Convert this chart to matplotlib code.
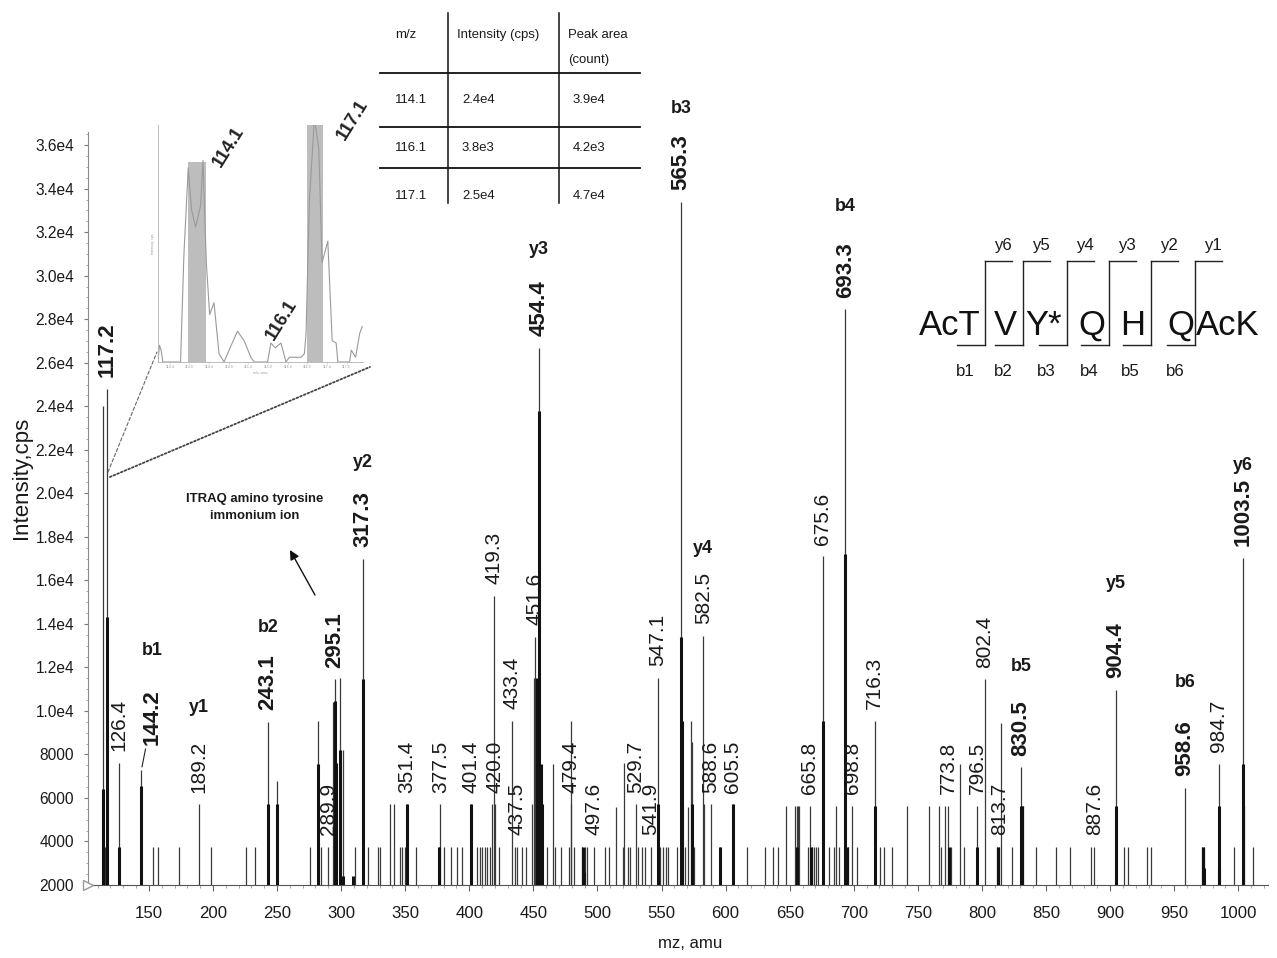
import numpy as np
import matplotlib
matplotlib.use("Agg")
import matplotlib.pyplot as plt
from matplotlib import font_manager as fm
from matplotlib.ticker import MultipleLocator, FixedLocator, FuncFormatter
from matplotlib.patches import ConnectionPatch

# ---------------- data ----------------
peak_mz = [114.1, 116.1, 117.2, 126.4, 144.2, 152.9, 156.8, 173.5, 189.2, 198.7,
           226.1, 232.6, 243.1, 249.9, 275.8, 282.3, 284.5, 289.9, 294.0, 295.1,
           299.1, 301.1, 310.5, 317.3, 320.8, 328.6, 330.5, 338.5, 341.0, 345.6,
           347.7, 349.5, 351.4, 358.6, 376.0, 377.5, 380.6, 385.7, 390.1, 394.3,
           401.4, 406.4, 408.0, 410.0, 412.0, 414.0, 416.0, 417.6, 419.3, 420.0,
           423.3, 433.4, 435.5, 437.5, 441.4, 444.0, 448.6, 450.4, 451.6, 454.4,
           457.0, 460.8, 465.2, 466.5, 471.2, 478.0, 479.0, 479.4, 481.5, 488.0,
           490.0, 491.5, 497.6, 506.0, 508.7, 514.4, 520.3, 521.1, 524.2, 525.5,
           529.7, 532.0, 534.5, 537.1, 541.9, 547.1, 548.8, 551.4, 553.2, 555.3,
           561.7, 565.3, 566.3, 568.0, 570.8, 572.9, 573.9, 575.5, 582.5, 583.5,
           588.6, 595.4, 605.5, 616.9, 630.8, 636.8, 640.7, 647.2, 654.5, 655.5,
           656.6, 657.6, 664.5, 665.8, 667.5, 669.0, 670.5, 672.0, 675.6, 680.8,
           684.7, 686.5, 688.5, 693.3, 695.5, 698.8, 702.8, 716.3, 720.4, 723.5,
           730.0, 741.7, 758.5, 766.2, 768.0, 771.4, 773.8, 775.5, 782.5, 785.7,
           796.5, 802.4, 811.5, 813.7, 815.0, 823.2, 830.5, 832.0, 842.1, 858.1,
           868.5, 885.3, 887.6, 904.4, 911.2, 913.8, 928.5, 931.9, 958.6, 972.0,
           973.5, 984.7, 996.6, 1003.5, 1004.8, 1011.3]
peak_int = [24000, 3750, 24800, 7600, 7300, 3750, 3750, 3750, 5700, 3750,
            3750, 3750, 9500, 6800, 3750, 9550, 3750, 3750, 10400, 11450,
            11500, 8200, 3750, 17000, 3750, 3750, 3750, 5700, 5700, 3750,
            3750, 3750, 5700, 3750, 3750, 5700, 3750, 3750, 3750, 3750,
            5700, 3750, 3750, 3750, 3750, 3750, 3750, 5700, 15300, 5700,
            3750, 9550, 3750, 3750, 3750, 3750, 5700, 11500, 13400, 26700,
            3750, 3750, 7550, 3750, 3750, 3750, 9550, 5700, 3750, 3750,
            3750, 3750, 3750, 3750, 3750, 5600, 3750, 7600, 3750, 3750,
            5700, 3750, 3750, 3750, 3750, 11500, 3750, 3750, 3750, 3750,
            3750, 33400, 9550, 3750, 5600, 9550, 8550, 3750, 13450, 5700,
            5700, 3750, 5700, 3750, 3750, 3750, 3750, 5650, 5650, 5650,
            5650, 5650, 3750, 5650, 3750, 3750, 3750, 3750, 17100, 3750,
            3750, 5650, 3750, 28450, 3750, 5650, 3750, 9550, 3750, 3750,
            3750, 5650, 5650, 5650, 3750, 5650, 5650, 3750, 7550, 3750,
            5650, 11450, 3750, 3750, 9450, 3750, 7400, 5650, 3750, 3750,
            3750, 3750, 3750, 10950, 3750, 3750, 3750, 3750, 6450, 3750,
            3750, 7550, 3750, 17050, 5650, 3750]

# unresolved clusters of sticks (appear as thicker dark bars)
cluster_mz = [114.1, 117.2, 126.4, 144.2, 243.1, 249.9, 282.3, 295.1, 296.0, 299.1,
              301.5, 309.4, 317.3, 351.4, 376.0, 401.4, 452.5, 454.4, 455.8, 456.8,
              488.8, 489.5, 547.1, 565.3, 565.8, 566.0, 573.4, 595.4, 605.5, 656.0,
              666.5, 675.6, 693.3, 694.5, 716.3, 774.5, 796.5, 812.5, 830.5, 831.5,
              904.4, 972.8, 973.0, 984.7, 985.3, 1003.5]
cluster_int = [6400, 14300, 3750, 6550, 5700, 5700, 7550, 10450, 7600, 8200,
               2400, 2400, 11450, 5700, 3750, 5700, 11500, 23800, 7550, 5700,
               3750, 2600, 5700, 13400, 9550, 5700, 5700, 3750, 5700, 3750,
               3750, 9550, 17200, 3750, 5650, 3750, 3750, 3750, 5650, 5650,
               5650, 3750, 2800, 5650, 2800, 7550]

label_mz = [117.2, 126.4, 144.2, 189.2, 243.1, 289.9, 295.1, 317.3, 351.4, 377.5,
            401.4, 419.3, 420.0, 433.4, 437.5, 451.6, 454.4, 479.4, 497.6, 529.7,
            541.9, 547.1, 565.3, 582.5, 588.6, 605.5, 665.8, 675.6, 693.3, 698.8,
            716.3, 773.8, 796.5, 802.4, 813.7, 830.5, 887.6, 904.4, 958.6, 984.7,
            1003.5]
bold_labels = [117.2, 144.2, 243.1, 295.1, 317.3, 454.4, 565.3, 693.3, 830.5,
               904.4, 958.6, 1003.5]

ion_names = ["b1", "y1", "b2", "y2", "y3", "b3", "y4", "b4", "b5", "y5", "b6", "y6"]
ion_mz = [144.2, 189.2, 243.1, 317.3, 454.4, 565.3, 582.5, 693.3, 830.5, 904.4, 958.6, 1003.5]

y_ticks = list(range(2000, 36001, 2000))
x_ticks = list(range(150, 1001, 50))

table_header = ["m/z", "Intensity (cps)", "Peak area\n(count)"]
table_mz = ["114.1", "116.1", "117.1"]
table_intensity = ["2.4e4", "3.8e3", "2.5e4"]
table_area = ["3.9e4", "4.2e3", "4.7e4"]

residues = ["AcT", "V", "Y*", "Q", "H", "Q", "AcK"]
y_ions_seq = ["y6", "y5", "y4", "y3", "y2", "y1"]
b_ions_seq = ["b1", "b2", "b3", "b4", "b5", "b6"]

# inset: iTRAQ reporter region profile
inset_x = [113.103, 113.137, 113.180, 113.222, 113.674, 113.759, 113.870, 113.955,
           114.057, 114.185, 114.245, 114.330, 114.415, 114.526, 114.654, 114.782,
           114.910, 115.123, 115.293, 115.464, 115.549, 115.890, 115.975, 116.086,
           116.231, 116.359, 116.444, 116.742, 116.827, 116.870, 116.955, 117.083,
           117.194, 117.279, 117.424, 117.535, 117.637, 117.680, 117.978, 118.021,
           118.132, 118.234, 118.302]
inset_y = [0.01, 0.07, 0.05, 0.0, 0.0, 0.45, 0.82, 0.64,
           0.57, 0.66, 0.85, 0.42, 0.20, 0.25, 0.035, 0.0,
           0.05, 0.13, 0.09, 0.02, 0.0, 0.0, 0.08, 0.06,
           0.08, 0.0, 0.02, 0.02, 0.035, 0.12, 0.68, 1.03,
           0.9, 0.42, 0.51, 0.09, 0.08, 0.0, 0.0, 0.05,
           0.02, 0.12, 0.15]
inset_bar_left = [113.870, 116.887]
inset_bar_right = [114.330, 117.313]
inset_bar_height = [0.845, 1.10]
inset_labels = ["114.1", "116.1", "117.1"]
inset_ticks = [113.4, 113.9, 114.4, 114.9, 115.4, 115.9, 116.4, 116.9, 117.4, 117.9]

# ---------------- fonts ----------------
def pick(cands, fallback="DejaVu Sans"):
    for n in cands:
        try:
            fm.findfont(fm.FontProperties(family=n), fallback_to_default=False)
            return n
        except Exception:
            continue
    return fallback

SANS = pick(["Liberation Sans", "Arimo", "DejaVu Sans"])
NARROW = pick(["Liberation Sans Narrow", "Arial Narrow"], None)
NS = 1.0
if NARROW is None:
    NARROW = SANS
    NS = 0.86
plt.rcParams["font.family"] = [SANS, "DejaVu Sans"]

W, H = 1277, 958
TXT = "#1a1a1a"

fig = plt.figure(figsize=(W / 100, H / 100), dpi=100, facecolor="white")

# ---------------- main spectrum ----------------
ax = fig.add_axes([88 / W, 73 / H, 1180 / W, 752.9 / H])
ax.set_xlim(102.5, 1023.2)
ax.set_ylim(2000, 36600)
ax.vlines(peak_mz, 2000, peak_int, colors="#3a3a3a", lw=0.9, zorder=2)
ax.vlines(cluster_mz, 2000, cluster_int, colors="#111111", lw=2.2, zorder=3)

for s in ["top", "right"]:
    ax.spines[s].set_visible(False)
ax.spines["left"].set_color("#8a8a8a")
ax.spines["left"].set_linewidth(0.8)
ax.spines["bottom"].set_color("#555555")
ax.spines["bottom"].set_linewidth(0.8)

ax.yaxis.set_major_locator(FixedLocator(y_ticks))
ax.yaxis.set_major_formatter(FuncFormatter(
    lambda v, p: f"{int(v)}" if v < 10000 else f"{v / 1e4:.1f}e4"))
ax.yaxis.set_minor_locator(MultipleLocator(500))
ax.xaxis.set_major_locator(FixedLocator(x_ticks))
ax.xaxis.set_minor_locator(MultipleLocator(10))
ax.tick_params(axis="y", which="major", length=3, color="#777777", pad=7,
               labelsize=13 * NS, labelcolor=TXT)
ax.tick_params(axis="y", which="minor", length=1.5, color="#999999")
ax.tick_params(axis="x", which="major", length=4, color="#666666", pad=11,
               labelsize=14 * NS, labelcolor=TXT)
ax.tick_params(axis="x", which="minor", length=2, color="#999999")
for lab in ax.get_xticklabels() + ax.get_yticklabels():
    lab.set_family(NARROW)

ax.plot([102.5], [2000], marker=">", ms=7, mfc="white", mec="#999999",
        mew=1.0, clip_on=False, zorder=5)

# peak labels
peak_lookup = dict(zip(peak_mz, peak_int))
label_artists = {}
for m in label_mz:
    h = peak_lookup[m]
    bold = m in bold_labels
    if m == 144.2:
        t = ax.annotate(f"{m:.1f}", xy=(m, h), xytext=(7.5, 18),
                        textcoords="offset points", rotation=90, ha="center",
                        va="bottom", fontsize=16, fontweight="bold", color=TXT,
                        family=SANS,
                        arrowprops=dict(arrowstyle="-", lw=0.8, color="#222222",
                                        shrinkA=1, shrinkB=2))
    else:
        t = ax.annotate(f"{m:.1f}", xy=(m, h), xytext=(0, 8.5),
                        textcoords="offset points", rotation=90, ha="center",
                        va="bottom", fontsize=16 if bold else 15,
                        fontweight="bold" if bold else "normal", color=TXT,
                        family=SANS)
    label_artists[m] = t

ion_gap_px = {"b1": 30, "y1": 25, "b2": 18, "y2": 20, "y3": 22, "b3": 17,
              "y4": 15, "b4": 27, "b5": 25, "y5": 31, "b6": 30, "y6": 4}
for name, m in zip(ion_names, ion_mz):
    ax.annotate(name, xy=(0.5, 1.0), xycoords=label_artists[m],
                xytext=(0, ion_gap_px[name] * 0.72), textcoords="offset points",
                ha="center", va="bottom", fontsize=15 * NS, fontweight="bold",
                color=TXT, family=NARROW)

# annotation for immonium ion
ax.text(232.8, 19350, "ITRAQ amino tyrosine\nimmonium ion", ha="center",
        va="center", fontsize=11 * NS, fontweight="bold", family=NARROW,
        color=TXT, linespacing=1.6)
ax.annotate("", xy=(260.1, 17395), xytext=(279.6, 15327),
            arrowprops=dict(arrowstyle="-|>", color="#111111", lw=1.0,
                            mutation_scale=14, shrinkA=0, shrinkB=0))

# axis titles
fig.text(22 / W, 1 - 478 / H, "Intensity,cps", rotation=90, ha="center",
         va="center", fontsize=16, color=TXT, family=SANS)
fig.text(690 / W, 1 - 944 / H, "mz, amu", ha="center", va="center",
         fontsize=14 * NS, color=TXT, family=NARROW)

# ---------------- inset ----------------
iax = fig.add_axes([158 / W, (H - 362) / H, 205 / W, 237 / H])
iax.set_xlim(113.10, 118.32)
iax.set_ylim(0, 1.0)
iax.patch.set_alpha(0)
for s in ["top", "right"]:
    iax.spines[s].set_visible(False)
for s in ["left", "bottom"]:
    iax.spines[s].set_color("#b0b0b0")
    iax.spines[s].set_linewidth(0.6)
for l, r, hgt in zip(inset_bar_left, inset_bar_right, inset_bar_height):
    iax.bar(l, hgt, width=r - l, align="edge", color="#bdbdbd", lw=0, zorder=1)
iax.plot(inset_x, inset_y, color="#9a9a9a", lw=0.8, zorder=2)
iax.set_xticks(inset_ticks)
iax.set_xticklabels([f"{v:.1f}" for v in inset_ticks])
iax.set_yticks([])
iax.tick_params(axis="x", length=1.5, width=0.4, color="#bbbbbb", pad=1,
                labelsize=2.5, labelcolor="#999999")
iax.set_xlabel("m/z, amu", fontsize=2.5, color="#999999", labelpad=1)
iax.set_ylabel("Intensity, cps", fontsize=2.5, color="#999999", labelpad=2)
inset_label_pos = [(114.91, 0.907), (116.26, 0.176), (118.05, 1.02)]
for txt, (lx, ly) in zip(inset_labels, inset_label_pos):
    iax.text(lx, ly, txt, rotation=58, ha="center", va="center", fontsize=13,
             fontweight="bold", color="#222222", family=SANS, clip_on=False)

con1 = ConnectionPatch(xyA=(118.1, 20980), coordsA=ax.transData,
                       xyB=(-0.005, 0.042), coordsB=iax.transAxes,
                       color="#666666", lw=0.8, linestyle=(0, (3, 2)))
con2 = ConnectionPatch(xyA=(119.6, 20750), coordsA=ax.transData,
                       xyB=(1.034, -0.021), coordsB=iax.transAxes,
                       color="#444444", lw=1.3, linestyle=(0, (1, 1.2)))
fig.add_artist(con1)
fig.add_artist(con2)

# ---------------- overlay: table + peptide ----------------
oax = fig.add_axes([0, 0, 1, 1], zorder=10)
oax.set_xlim(0, W)
oax.set_ylim(H, 0)
oax.axis("off")
oax.patch.set_alpha(0)

for yy in [73.3, 126.7, 168.3]:
    oax.plot([380, 640], [yy, yy], color="#111111", lw=1.3)
for xx in [448.3, 559.3]:
    oax.plot([xx, xx], [13, 203], color="#111111", lw=1.1)
tfs = 11 * NS
oax.text(395, 35, table_header[0], ha="left", va="center", fontsize=tfs,
         family=NARROW, color=TXT)
oax.text(457, 35, table_header[1], ha="left", va="center", fontsize=tfs,
         family=NARROW, color=TXT)
oax.text(568, 35, table_header[2].split("\n")[0], ha="left", va="center",
         fontsize=tfs, family=NARROW, color=TXT)
oax.text(568, 60, table_header[2].split("\n")[1], ha="left", va="center",
         fontsize=tfs, family=NARROW, color=TXT)
for ry, a, b, c in zip([100, 148, 196], table_mz, table_intensity, table_area):
    oax.text(395, ry, a, ha="left", va="center", fontsize=tfs, family=NARROW, color=TXT)
    oax.text(462, ry, b, ha="left", va="center", fontsize=tfs, family=NARROW, color=TXT)
    oax.text(573, ry, c, ha="left", va="center", fontsize=tfs, family=NARROW, color=TXT)

res_x = [950, 1005, 1044, 1092, 1133, 1181, 1228]
for rx, r in zip(res_x, residues):
    oax.text(rx, 335, r, ha="center", va="baseline", fontsize=29 * NS,
             family=NARROW, color="#111111")
br_x = [985, 1023.3, 1066.7, 1109.3, 1150.7, 1195]
for bx, yl, bl in zip(br_x, y_ions_seq, b_ions_seq):
    oax.plot([bx, bx], [261, 345], color="#222222", lw=1.0)
    oax.plot([bx, bx + 27], [261, 261], color="#222222", lw=1.0)
    oax.plot([bx - 28, bx], [345, 345], color="#222222", lw=1.0)
    oax.text(bx + 18, 245, yl, ha="center", va="center", fontsize=14 * NS,
             family=NARROW, color=TXT)
    oax.text(bx - 20, 372, bl, ha="center", va="center", fontsize=14 * NS,
             family=NARROW, color=TXT)

fig.savefig("out.png", dpi=100, facecolor="white")
